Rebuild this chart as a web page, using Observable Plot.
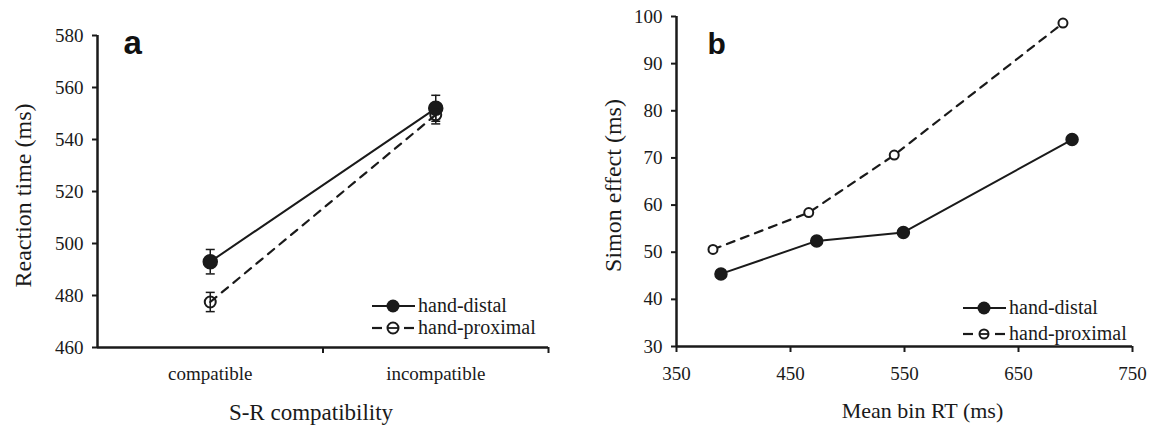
<!DOCTYPE html>
<html>
<head>
<meta charset="utf-8">
<script src="https://cdn.jsdelivr.net/npm/d3@7"></script>
<script src="https://cdn.jsdelivr.net/npm/@observablehq/plot@0.6"></script>
<style>
  html, body { margin: 0; padding: 0; background: #fff; }
  #wrap { position: relative; width: 1151px; height: 427px; overflow: hidden; background: #fff; }
  #wrap > .panel { position: absolute; top: 0; }
  .legend { position: absolute; font-family: 'Liberation Serif', 'Times New Roman', serif; font-size: 20px; color: #1a1a1a; }
  .legend .row { position: absolute; left: 0; white-space: nowrap; display: flex; align-items: center; }
  .legend svg { display: block; }
</style>
</head>
<body>
<div id="wrap"></div>
<script>
// ---------- data ----------
const seriesNames = ["hand-distal", "hand-proximal"];

// panel a
const conditions = ["compatible", "incompatible"];
const rtDistal = [493, 552];
const rtDistalErr = [4.7, 5];
const rtProximal = [477.5, 549.5];
const rtProximalErr = [3.7, 3.5];
const yTicksA = [460, 480, 500, 520, 540, 560, 580];

// panel b
const binRtDistal = [389, 473, 549, 697];
const simonDistal = [45.4, 52.4, 54.2, 73.9];
const binRtProximal = [382, 466, 541, 689];
const simonProximal = [50.6, 58.4, 70.6, 98.6];
const xTicksB = [350, 450, 550, 650, 750];
const yTicksB = [30, 40, 50, 60, 70, 80, 90, 100];

// ---------- helpers ----------
const ink = "#1a1a1a";
const capSymbol = { draw(ctx, size) { ctx.moveTo(-4.5, 0); ctx.lineTo(4.5, 0); } };

const rowsA = [];
conditions.forEach((c, i) => {
  rowsA.push({series: seriesNames[0], x: i + 0.5, y: rtDistal[i], e: rtDistalErr[i]});
  rowsA.push({series: seriesNames[1], x: i + 0.5, y: rtProximal[i], e: rtProximalErr[i]});
});
const distA = rowsA.filter(d => d.series === seriesNames[0]);
const proxA = rowsA.filter(d => d.series === seriesNames[1]);

const distB = binRtDistal.map((x, i) => ({x, y: simonDistal[i]}));
const proxB = binRtProximal.map((x, i) => ({x, y: simonProximal[i]}));

const font = "'Liberation Serif', 'Times New Roman', serif";
const sans = "'Liberation Sans', Arial, sans-serif";

// ---------- panel a ----------
const plotA = Plot.plot({
  width: 560, height: 427,
  marginLeft: 97, marginRight: 12, marginTop: 35, marginBottom: 80,
  x: {domain: [0, 2], axis: null},
  y: {domain: [460, 580], axis: null},
  style: {fontFamily: font, fontSize: "19px", color: ink, background: "white", overflow: "visible"},
  marks: [
    Plot.axisY({ticks: yTicksA, tickSize: 5, tickPadding: 9, label: null, strokeWidth: 2}),
    Plot.axisX([1, 2], {tickSize: 6, tickFormat: () => "", label: null, strokeWidth: 2}),
    Plot.axisX(conditions.map((c, i) => i + 0.5), {tickSize: 0, tickPadding: 19, tickFormat: d => conditions[Math.floor(d)], label: null}),
    Plot.ruleX([0], {stroke: ink, strokeWidth: 2.5}),
    Plot.ruleY([460], {stroke: ink, strokeWidth: 2.5}),
    Plot.line(distA, {x: "x", y: "y", stroke: ink, strokeWidth: 2}),
    Plot.line(proxA, {x: "x", y: "y", stroke: ink, strokeWidth: 2.2, strokeDasharray: "8,7"}),
    Plot.ruleX(rowsA, {x: "x", y1: d => d.y - d.e, y2: d => d.y + d.e, stroke: ink, strokeWidth: 1.5}),
    Plot.dot(rowsA, {x: "x", y: d => d.y - d.e, symbol: capSymbol, stroke: ink, strokeWidth: 1.5, r: 4}),
    Plot.dot(rowsA, {x: "x", y: d => d.y + d.e, symbol: capSymbol, stroke: ink, strokeWidth: 1.5, r: 4}),
    Plot.dot(distA, {x: "x", y: "y", r: 7, fill: ink, stroke: ink}),
    Plot.dot(proxA, {x: "x", y: "y", r: 5.5, fill: "none", stroke: ink, strokeWidth: 2}),
    Plot.text(["Reaction time (ms)"], {frameAnchor: "left", textAnchor: "middle", dx: -74, dy: 4, rotate: -90, fontSize: 24, fill: ink}),
    Plot.text(["S-R compatibility"], {frameAnchor: "bottom", dx: -12, dy: 72, fontSize: 23, fill: ink}),
    Plot.text(["a"], {frameAnchor: "top-left", lineAnchor: "bottom", dx: 26, dy: 18, fontSize: 33, fontWeight: "bold", fontFamily: sans, fill: "#111"})
  ]
});

// ---------- panel b ----------
const plotB = Plot.plot({
  width: 591, height: 427,
  marginLeft: 116, marginRight: 19, marginTop: 16, marginBottom: 81,
  x: {domain: [350, 750], axis: null},
  y: {domain: [30, 100], axis: null},
  style: {fontFamily: font, fontSize: "19px", color: ink, background: "white", overflow: "visible"},
  marks: [
    Plot.axisY({ticks: yTicksB, tickSize: 5, tickPadding: 9, label: null, strokeWidth: 2}),
    Plot.axisX({ticks: xTicksB, tickSize: 6, tickPadding: 14, label: null, strokeWidth: 2}),
    Plot.ruleX([350], {stroke: ink, strokeWidth: 2.5}),
    Plot.ruleY([30], {stroke: ink, strokeWidth: 2.5}),
    Plot.line(distB, {x: "x", y: "y", stroke: ink, strokeWidth: 2}),
    Plot.line(proxB, {x: "x", y: "y", stroke: ink, strokeWidth: 2.2, strokeDasharray: "8,7"}),
    Plot.dot(distB, {x: "x", y: "y", r: 6, fill: ink, stroke: ink}),
    Plot.dot(proxB, {x: "x", y: "y", r: 4.5, fill: "white", stroke: ink, strokeWidth: 2}),
    Plot.text(["Simon effect (ms)"], {frameAnchor: "left", textAnchor: "middle", dx: -63, dy: 4, rotate: -90, fontSize: 24, fill: ink}),
    Plot.text(["Mean bin RT (ms)"], {frameAnchor: "bottom", dx: 18, dy: 71, fontSize: 22, fill: ink}),
    Plot.text(["b"], {frameAnchor: "top-left", lineAnchor: "bottom", dx: 31, dy: 37, fontSize: 30, fontWeight: "bold", fontFamily: sans, fill: "#111"})
  ]
});

const wrap = document.getElementById("wrap");
plotA.classList.add("panel"); plotA.style.left = "0px";
plotB.classList.add("panel"); plotB.style.left = "560px";
wrap.appendChild(plotA);
wrap.appendChild(plotB);

// ---------- legends ----------
function legend(left, top, gap, markR) {
  const lg = document.createElement("div");
  lg.className = "legend";
  lg.style.left = left + "px"; lg.style.top = top + "px";
  seriesNames.forEach((name, i) => {
    const row = document.createElement("div");
    row.className = "row";
    row.style.top = (i * gap) + "px";
    const svg = d3.create("svg").attr("width", 45).attr("height", 20);
    if (i === 0) {
      svg.append("line").attr("x1", 0).attr("x2", 43).attr("y1", 10).attr("y2", 10).attr("stroke", ink).attr("stroke-width", 2);
      svg.append("circle").attr("cx", 21).attr("cy", 10).attr("r", 6.5).attr("fill", ink);
    } else {
      svg.append("line").attr("x1", 0).attr("x2", 10).attr("y1", 10).attr("y2", 10).attr("stroke", ink).attr("stroke-width", 2.2);
      svg.append("line").attr("x1", 32).attr("x2", 42).attr("y1", 10).attr("y2", 10).attr("stroke", ink).attr("stroke-width", 2.2);
      svg.append("circle").attr("cx", 21).attr("cy", 10).attr("r", markR).attr("fill", "white").attr("stroke", ink).attr("stroke-width", 2);
      svg.append("line").attr("x1", 21 - markR).attr("x2", 21 + markR).attr("y1", 10).attr("y2", 10).attr("stroke", ink).attr("stroke-width", 1.8);
    }
    row.appendChild(svg.node());
    const sp = document.createElement("span");
    sp.textContent = name;
    sp.style.marginLeft = "1px";
    row.appendChild(sp);
    lg.appendChild(row);
  });
  wrap.appendChild(lg);
}
legend(372, 294, 22, 5.5);
legend(963, 296, 26, 4.5);
</script>
</body>
</html>
